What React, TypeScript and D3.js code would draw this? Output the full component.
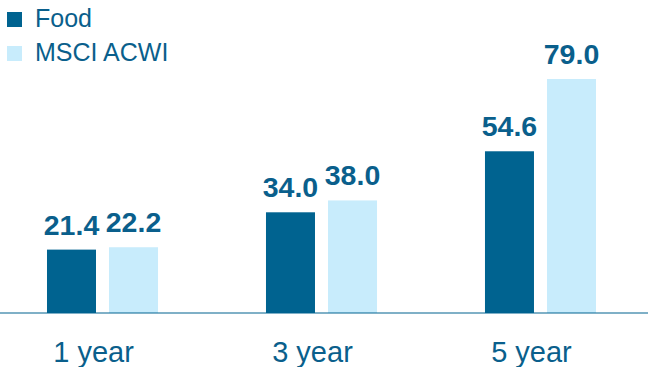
import React from "react";
import * as d3 from "d3";

const categories = ["1 year", "3 year", "5 year"];
const seriesNames = ["Food", "MSCI ACWI"];
const foodValues = [21.4, 34.0, 54.6];
const acwiValues = [22.2, 38.0, 79.0];

const W = 659;
const H = 367;
const DARK = "#006390";
const LIGHT = "#c8ecfc";
const TEXT = "#0a5f8c";
const FONT = "'Liberation Sans', Arial, sans-serif";

export default function App() {
  const x = d3
    .scaleBand<string>()
    .domain(categories)
    .range([-2.5, 645.5])
    .paddingInner(0.493)
    .paddingOuter(0.226);
  const xi = d3
    .scaleBand<string>()
    .domain(seriesNames)
    .range([0, x.bandwidth()])
    .paddingInner(0.21);
  const y = d3.scaleLinear().domain([0, 100]).range([313, 16.8]);
  const colors = d3.scaleOrdinal<string, string>().domain(seriesNames).range([DARK, LIGHT]);
  const data = categories.map((c, i) => ({
    cat: c,
    vals: [
      { s: seriesNames[0], v: foodValues[i] },
      { s: seriesNames[1], v: acwiValues[i] },
    ],
  }));

  return (
    <svg
      width={W}
      height={H}
      style={{ position: "fixed", left: 0, top: 0, background: "#fff" }}
      fontFamily={FONT}
    >
      {seriesNames.map((s, i) => (
        <g key={s} transform={`translate(7,${12 + i * 34})`}>
          <rect width={15} height={15} fill={colors(s)} />
          <text x={28} y={15} fontSize={25} fill={TEXT}>
            {s}
          </text>
        </g>
      ))}
      {data.map((d) => (
        <g key={d.cat} transform={`translate(${x(d.cat)},0)`}>
          {d.vals.map((b) => (
            <g key={b.s}>
              <rect
                x={xi(b.s)}
                y={y(b.v)}
                width={xi.bandwidth()}
                height={y(0) - y(b.v)}
                fill={colors(b.s)}
              />
              <text
                x={(xi(b.s) as number) + xi.bandwidth() / 2}
                y={y(b.v) - 15}
                textAnchor="middle"
                fontSize={28.5}
                fontWeight="bold"
                fill={TEXT}
              >
                {b.v.toFixed(1)}
              </text>
            </g>
          ))}
          <text
            x={x.bandwidth() / 2 - 9}
            y={362}
            textAnchor="middle"
            fontSize={29}
            fill={TEXT}
          >
            {d.cat}
          </text>
        </g>
      ))}
      <line x1={0} x2={648} y1={y(0)} y2={y(0)} stroke={DARK} strokeWidth={1.2} />
    </svg>
  );
}
